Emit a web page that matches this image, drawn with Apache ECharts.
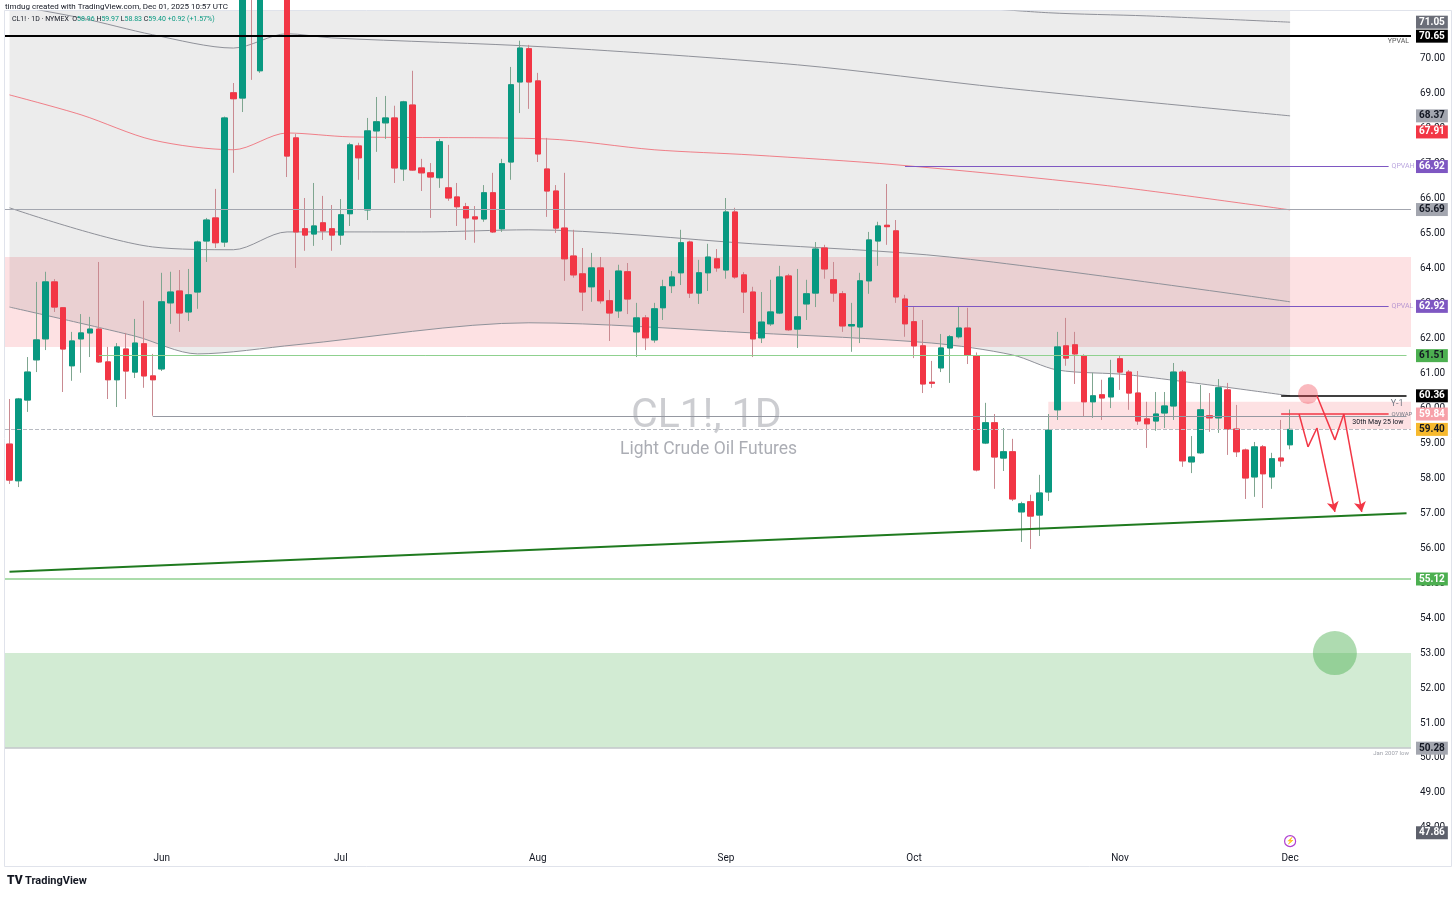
<!DOCTYPE html>
<html>
<head>
<meta charset="utf-8">
<script src="https://cdn.jsdelivr.net/npm/echarts@6/dist/echarts.min.js"></script>
<style>
  html, body { margin: 0; padding: 0; background: #fff; }
  #chart { width: 1456px; height: 897px; }
</style>
</head>
<body>
<div id="chart"></div>
<script>
// trading days shown on the chart
var dates = [
  '2025-05-07','2025-05-08','2025-05-09','2025-05-12','2025-05-13','2025-05-14','2025-05-15','2025-05-16',
  '2025-05-19','2025-05-20','2025-05-21','2025-05-22','2025-05-23','2025-05-27','2025-05-28','2025-05-29','2025-05-30',
  '2025-06-02','2025-06-03','2025-06-04','2025-06-05','2025-06-06','2025-06-09','2025-06-10','2025-06-11','2025-06-12',
  '2025-06-13','2025-06-16','2025-06-17','2025-06-18','2025-06-20','2025-06-23','2025-06-24','2025-06-25','2025-06-26',
  '2025-06-27','2025-06-30',
  '2025-07-01','2025-07-02','2025-07-03','2025-07-07','2025-07-08','2025-07-09','2025-07-10','2025-07-11','2025-07-14',
  '2025-07-15','2025-07-16','2025-07-17','2025-07-18','2025-07-21','2025-07-22','2025-07-23','2025-07-24','2025-07-25',
  '2025-07-28','2025-07-29','2025-07-30','2025-07-31',
  '2025-08-01','2025-08-04','2025-08-05','2025-08-06','2025-08-07','2025-08-08','2025-08-11','2025-08-12','2025-08-13',
  '2025-08-14','2025-08-15','2025-08-18','2025-08-19','2025-08-20','2025-08-21','2025-08-22','2025-08-25','2025-08-26',
  '2025-08-27','2025-08-28','2025-08-29',
  '2025-09-02','2025-09-03','2025-09-04','2025-09-05','2025-09-08','2025-09-09','2025-09-10','2025-09-11','2025-09-12',
  '2025-09-15','2025-09-16','2025-09-17','2025-09-18','2025-09-19','2025-09-22','2025-09-23','2025-09-24','2025-09-25',
  '2025-09-26','2025-09-29','2025-09-30',
  '2025-10-01','2025-10-02','2025-10-03','2025-10-06','2025-10-07','2025-10-08','2025-10-09','2025-10-10','2025-10-13',
  '2025-10-14','2025-10-15','2025-10-16','2025-10-17','2025-10-20','2025-10-21','2025-10-22','2025-10-23','2025-10-24',
  '2025-10-27','2025-10-28','2025-10-29','2025-10-30','2025-10-31',
  '2025-11-03','2025-11-04','2025-11-05','2025-11-06','2025-11-07','2025-11-10','2025-11-11','2025-11-12','2025-11-13',
  '2025-11-14','2025-11-17','2025-11-18','2025-11-19','2025-11-20','2025-11-21','2025-11-24','2025-11-25','2025-11-26',
  '2025-11-28','2025-12-01'
];
// empty days on the right side of the chart
var futureDates = [
  '2025-12-02','2025-12-03','2025-12-04','2025-12-05','2025-12-08','2025-12-09','2025-12-10',
  '2025-12-11','2025-12-12','2025-12-15','2025-12-16','2025-12-17','2025-12-18'
];
var tickDates = ['2025-06-02','2025-07-01','2025-08-01','2025-09-02','2025-10-01','2025-11-03','2025-12-01'];
var tickNames = ['Jun','Jul','Aug','Sep','Oct','Nov','Dec'];

// daily bars: open, high, low, close
var ohlc = [
  [58.98,60.27,57.84,57.95],[57.93,60.30,57.75,60.27],[60.24,61.47,59.90,61.04],[61.39,63.62,61.04,61.96],
  [61.99,63.91,61.67,63.62],[63.62,63.70,62.76,62.90],[62.88,62.90,60.47,61.70],[61.22,62.19,60.79,61.93],
  [61.99,62.70,61.02,62.16],[62.16,62.62,61.47,62.27],[62.27,64.19,61.30,61.33],[61.33,61.76,60.27,60.82],
  [60.82,61.87,60.04,61.76],[61.70,62.16,60.27,61.07],[61.04,62.56,60.87,61.87],[61.85,63.08,60.59,60.93],
  [60.93,61.56,59.79,60.82],
  [61.13,63.88,61.07,63.05],[63.02,63.91,62.42,63.33],[63.36,63.96,62.19,62.73],[62.76,63.99,62.50,63.25],
  [63.33,64.80,62.85,64.76],[64.79,65.45,64.19,65.39],[65.45,66.28,64.59,64.74],[64.76,68.35,64.62,68.31],
  [69.03,69.31,66.74,68.86],[68.88,77.60,68.48,72.98],[73.50,74.60,69.40,71.77],[69.66,75.00,69.60,74.84],
  [74.50,75.70,73.00,75.14],[75.00,75.80,72.60,73.84],[73.80,78.40,66.62,67.22],[67.74,67.85,64.02,65.05],
  [65.14,66.02,64.51,64.96],[64.99,66.45,64.65,65.22],[65.31,66.08,64.82,65.08],[65.14,65.82,64.51,64.96],
  [64.96,65.99,64.68,65.54],[65.57,67.60,65.22,67.54],[67.51,67.60,66.54,67.17],[65.68,68.31,65.39,67.94],
  [67.94,68.91,67.34,68.20],[68.17,68.94,67.71,68.31],[68.31,68.66,66.45,66.88],[66.85,68.80,66.51,68.77],
  [68.68,69.66,66.80,66.82],[66.88,67.14,66.22,66.74],[66.74,67.02,65.45,66.62],[66.60,67.71,66.31,67.63],
  [66.31,67.54,65.94,66.02],[66.05,66.45,65.22,65.77],[65.77,65.88,64.82,65.45],[65.48,65.79,64.74,65.42],
  [65.42,66.39,65.34,66.17],[66.17,66.74,65.02,65.05],[65.14,67.14,65.05,67.00],[67.05,69.77,66.54,69.26],
  [69.34,70.52,68.45,70.31],[70.29,70.40,68.57,69.34],
  [69.37,69.60,67.05,67.28],[66.85,67.74,65.48,66.22],[66.22,66.39,65.02,65.16],[65.16,66.74,63.65,64.28],
  [64.36,65.11,63.74,63.82],[63.85,64.59,62.79,63.33],[63.48,64.45,63.05,64.02],[64.02,64.33,63.00,63.08],
  [63.08,63.39,61.93,62.73],[62.79,64.11,62.59,63.93],[63.91,64.16,62.70,63.13],[62.19,63.02,61.47,62.59],
  [62.59,62.67,61.67,62.02],[61.96,63.02,61.88,62.85],[62.88,63.68,62.53,63.48],[63.51,63.93,63.30,63.76],
  [63.88,65.11,63.53,64.74],[64.76,64.80,63.16,63.30],[63.30,64.25,62.99,63.88],[63.88,64.71,63.36,64.33],
  [64.28,64.56,63.91,64.02],
  [63.96,66.02,63.71,65.62],[65.62,65.74,63.71,63.76],[63.82,63.90,62.73,63.33],[63.33,63.48,61.47,61.99],
  [62.02,63.33,61.87,62.47],[62.42,63.68,62.36,62.76],[62.73,64.08,62.70,63.76],[63.79,63.85,62.22,62.25],
  [62.27,63.99,61.73,62.62],[62.99,63.68,62.53,63.28],[63.30,64.76,62.90,64.56],[64.59,64.68,63.71,63.99],
  [63.68,64.19,63.05,63.30],[63.28,63.36,62.19,62.36],[62.36,63.02,61.62,62.40],[62.33,63.88,61.87,63.65],
  [63.65,65.05,63.28,64.82],[64.79,65.34,64.08,65.22],[65.24,66.42,64.68,65.20],[65.08,65.39,63.02,63.19],
  [63.13,63.25,62.05,62.42],
  [62.48,62.90,61.44,61.79],[61.79,62.53,60.44,60.70],[60.75,61.36,60.59,60.72],[61.16,62.13,61.04,61.73],
  [61.73,62.10,60.73,62.05],[62.05,62.93,62.00,62.30],[62.30,62.88,61.27,61.53],[61.50,61.60,58.20,58.24],
  [59.01,60.16,58.98,59.59],[59.59,59.84,57.70,58.61],[58.58,59.44,58.21,58.76],[58.76,59.13,57.35,57.41],
  [57.04,57.33,56.18,57.27],[57.33,57.53,55.98,56.92],[56.95,58.10,56.35,57.58],[57.61,59.84,57.35,59.38],
  [59.96,62.19,59.67,61.76],[61.79,62.59,61.22,61.44],[61.82,62.19,60.70,61.56],[61.50,61.55,59.76,60.19],
  [60.19,61.02,59.73,60.36],[60.39,60.82,59.67,60.30],[60.33,61.39,60.01,60.87],
  [61.42,61.50,60.53,61.04],[61.04,61.10,59.96,60.44],[60.44,61.07,59.53,59.64],[59.70,60.19,58.87,59.56],
  [59.64,60.47,59.36,59.84],[59.87,60.47,59.44,60.07],[60.07,61.30,59.67,61.04],[61.04,61.10,58.33,58.50],
  [58.47,59.21,58.15,58.61],[58.73,60.67,58.70,59.96],[59.79,60.44,59.33,59.73],[59.73,60.84,59.30,60.59],
  [60.53,60.73,58.67,59.41],[59.41,60.10,58.61,58.76],[58.81,58.85,57.41,58.01],[58.04,59.04,57.47,58.90],
  [58.90,58.95,57.15,58.13],[58.04,58.73,57.70,58.56],[58.58,59.67,58.33,58.50],
  [58.96,59.97,58.83,59.40]
];

// indicator curves: [bar index, price]
var bandUpper   = [[104,71.55],[116,71.32],[127,71.23],[143,71.05]];
var bandHigh    = [[0,71.55],[8,71.17],[16,70.69],[25,70.31],[31,70.72],[36,70.60],[60,70.34],[88,69.83],[111,69.17],[143,68.37]];
var redAverage  = [[0,68.97],[8,68.40],[16,67.68],[25,67.40],[31,67.88],[38,67.77],[60,67.71],[72,67.40],[83,67.25],[99,66.97],[122,66.39],[143,65.68]];
var bandMid     = [[0,65.74],[16,64.62],[25,64.54],[31,65.05],[46,65.05],[58,65.11],[83,64.71],[105,64.33],[143,63.05]];
var bandLower   = [[0,62.90],[14,62.07],[21,61.56],[32,61.82],[58,62.45],[83,62.16],[103,61.87],[112,61.53],[117,61.10],[125,60.96],[143,60.36]];

// drawings
var resistanceZone = [61.76, 64.33];
var qvwapZone = [59.41, 60.19];
var supportZone = [50.28, 53.00];
var trendline = [[0, 55.33], [156, 57.00]];
var pathA = [[144, 59.84], [145, 58.90], [146, 59.44], [148, 57.04]];
var pathB = [[146, 60.36], [148, 59.10], [149, 59.84], [151, 57.04]];
var redCircle = [145, 60.41];
var greenCircle = [148, 53.00];
var alertMark = [143, 47.62];
var yearValueLow = 70.65, quarterVAH = 66.92, quarterVAL = 62.92, prevQuarterLine = 65.69;
var greenLevel = 61.51, yearMinus1 = 60.36, qvwap = 59.84, mayLow = 59.79, lastPrice = 59.40;
var lowerGreenLevel = 55.12, jan2007Low = 50.28;
var tagUpper = 71.05, tagHigh = 68.37, tagRed = 67.91, tagBottom = 47.86;

var allDates = dates.concat(futureDates);
var catOf = function (p) { return [allDates[p[0]], p[1]]; };

var FONT = 'Roboto, "Liberation Sans", sans-serif';
var HIDDEN = { color: 'rgba(0,0,0,0)', width: 0 };

var chart = echarts.init(document.getElementById('chart'));

// wick series: full bar, body series: only open/close
var wickData = ohlc.map(function (r) { return [r[0], r[3], r[2], r[1]]; });
var bodyData = ohlc.map(function (r) { return [r[0], r[3], Math.min(r[0], r[3]), Math.max(r[0], r[3])]; });

function tag(v, bg, fg) {
    return {
        yAxis: v,
        lineStyle: HIDDEN,
        label: {
            show: true, position: 'end', distance: 5, formatter: v.toFixed(2), opacity: 1,
            backgroundColor: bg, color: fg, padding: [2, 3, 1, 3],
            fontSize: 10, fontFamily: FONT, fontWeight: 'bold'
        }
    };
}
function fullLine(v, color, width, type) {
    return { yAxis: v, lineStyle: { color: color, width: width, type: type || 'solid' }, label: { show: false } };
}
function segment(x0, x1, v, color, width, text, pos, textColor, fs) {
    return [
        { coord: [allDates[x0], v], lineStyle: { color: color, width: width, type: 'solid' },
          label: text ? { show: true, position: pos, formatter: text, color: textColor, fontSize: fs, fontFamily: FONT, distance: 3 } : { show: false } },
        { coord: [allDates[x1], v] }
    ];
}
function arrowPath(pts) {
    var segs = [];
    for (var i = 0; i < pts.length - 1; i++) {
        segs.push([
            { coord: catOf(pts[i]), symbol: 'none', lineStyle: { color: '#f23645', width: 1.5, type: 'solid' }, label: { show: false } },
            { coord: catOf(pts[i + 1]), symbol: i === pts.length - 2 ? 'arrow' : 'none', symbolSize: [9, 10] }
        ]);
    }
    return segs;
}
function textLabel(v, text, pos, color, fs) {
    return { yAxis: v, lineStyle: HIDDEN,
        label: { show: true, position: pos, formatter: text, color: color, opacity: 1, fontSize: fs, fontFamily: FONT, distance: 2 } };
}

var curve = function (data, color, z) {
    return { type: 'line', data: data.map(catOf), smooth: 0.3, symbol: 'none', silent: true, z: z || 2,
             lineStyle: { color: color, width: 1 } };
};

var option = {
    animation: false,
    backgroundColor: '#ffffff',
    grid: { left: 5, right: 45, top: 11, bottom: 52 },
    xAxis: {
        type: 'category',
        data: allDates,
        axisLine: { show: false },
        axisTick: { show: false },
        splitLine: { show: false },
        axisLabel: {
            interval: function (i, v) { return tickDates.indexOf(v) >= 0; },
            formatter: function (v) { var k = tickDates.indexOf(v); return k >= 0 ? tickNames[k] : ''; },
            color: '#131722', fontSize: 10, fontFamily: FONT, margin: 8
        }
    },
    yAxis: {
        type: 'value',
        position: 'right',
        min: 47.51,
        max: 71.37,
        minInterval: 1,
        maxInterval: 1,
        splitLine: { show: false },
        axisLine: { show: false },
        axisTick: { show: false },
        axisLabel: {
            showMinLabel: false, showMaxLabel: false,
            formatter: function (v) { return v.toFixed(2); },
            color: '#131722', fontSize: 10, fontFamily: FONT, margin: 9
        }
    },
    graphic: [
        { type: 'rect', silent: true, shape: { x: 4.5, y: 10.5, width: 1447, height: 856 },
          style: { fill: 'none', stroke: '#e0e3eb', lineWidth: 1 }, z: 0 },
        { type: 'text', left: 5, top: 3, silent: true,
          style: { text: 'timdug created with TradingView.com, Dec 01, 2025 10:57 UTC', fontSize: 8, fontFamily: FONT, fill: '#131722' } },
        { type: 'text', left: 12, top: 16, silent: true, z: 100,
          style: {
              text: '{k|CL1! · 1D · NYMEX  O}{g|58.96}{k| H}{g|59.97}{k| L}{g|58.83}{k| C}{g|59.40}{g| +0.92 (+1.57%)}',
              rich: { k: { fontSize: 7, fontFamily: FONT, fill: '#131722' }, g: { fontSize: 7, fontFamily: FONT, fill: '#089981' } }
          } },
        { type: 'text', left: 631, top: 396, silent: true, z: 0,
          style: { text: 'CL1!, 1D', fontSize: 41, fontFamily: FONT, fill: 'rgba(120,123,134,0.38)' } },
        { type: 'text', left: 620, top: 441, silent: true, z: 0,
          style: { text: 'Light Crude Oil Futures', fontSize: 17.5, fontFamily: FONT, fill: 'rgba(120,123,134,0.62)' } },
        { type: 'text', left: 7, top: 875, silent: true,
          style: { text: 'TV', fontSize: 12, fontWeight: 900, fontFamily: FONT, fill: '#131722' } },
        { type: 'text', left: 25, top: 876, silent: true,
          style: { text: 'TradingView', fontSize: 11, fontWeight: 'bold', fontFamily: FONT, fill: '#131722' } }
    ],
    series: [
        // shaded band: from lower band up to the top
        {
            type: 'line', data: bandLower.map(catOf), smooth: 0.3, symbol: 'none', silent: true, z: 1,
            lineStyle: { color: '#8f9199', width: 1 },
            areaStyle: { origin: 'end', color: 'rgba(0,0,0,0.105)' },
            markArea: {
                silent: true,
                data: [
                    [{ yAxis: resistanceZone[1], itemStyle: { color: 'rgba(242,54,69,0.15)' } }, { yAxis: resistanceZone[0] }],
                    [{ xAxis: allDates[116], yAxis: qvwapZone[1], itemStyle: { color: 'rgba(242,54,69,0.15)' } }, { yAxis: qvwapZone[0] }],
                    [{ yAxis: supportZone[1], itemStyle: { color: 'rgba(76,175,80,0.25)' } }, { yAxis: supportZone[0] }]
                ]
            }
        },
        curve(bandUpper, '#8f9199'),
        curve(bandHigh, '#8f9199'),
        curve(redAverage, 'rgba(242,54,69,0.6)'),
        curve(bandMid, '#8f9199'),
        {
            type: 'candlestick', data: wickData, barWidth: 6, silent: true, z: 3,
            itemStyle: { color: '#7fa690', color0: '#c98a91', borderColor: '#7fa690', borderColor0: '#c98a91', borderWidth: 1 }
        },
        {
            type: 'candlestick', data: bodyData, barWidth: 6, silent: true, z: 4,
            itemStyle: { color: '#089981', color0: '#f23645', borderColor: '#089981', borderColor0: '#f23645', borderWidth: 1 }
        },
        {
            type: 'line', data: trendline.map(catOf), symbol: 'none', silent: true, z: 5,
            lineStyle: { color: '#1f7a1f', width: 2 },
            markLine: {
                silent: true, symbol: 'none', precision: 2,
                data: [
                    fullLine(yearValueLow, '#000000', 2),
                    fullLine(prevQuarterLine, '#a3a6af', 1),
                    fullLine(lastPrice, '#b8bbc2', 1, 'dashed'),
                    fullLine(lowerGreenLevel, '#8fd18f', 1.5),
                    fullLine(jan2007Low, '#c5c7cc', 1.5),
                    segment(10, 156, greenLevel, '#8fd18f', 1),
                    segment(16, 156, mayLow, '#9598a1', 1, '30th May 25 low', 'insideEndBottom', '#131722', 7),
                    segment(100, 154, quarterVAH, '#7e57c2', 1, 'QPVAH', 'end', 'rgba(126,87,194,0.55)', 7),
                    segment(100, 154, quarterVAL, '#7e57c2', 1, 'QPVAL', 'end', 'rgba(126,87,194,0.55)', 7),
                    segment(142, 156, yearMinus1, '#000000', 1.5, 'Y-1', 'insideEndBottom', '#787b86', 9),
                    segment(142, 154, qvwap, '#f23645', 1.5, 'QVWAP', 'end', '#787b86', 6),
                    textLabel(yearValueLow, 'YPVAL', 'insideEndBottom', '#555555', 7),
                    textLabel(jan2007Low, 'Jan 2007 low', 'insideEndBottom', '#a0a3ab', 6),
                    tag(tagUpper, '#6b6e78', '#ffffff'),
                    tag(yearValueLow, '#000000', '#ffffff'),
                    tag(tagHigh, '#a3a6af', '#131722'),
                    tag(tagRed, '#f23645', '#ffffff'),
                    tag(quarterVAH, '#7e57c2', '#ffffff'),
                    tag(prevQuarterLine, '#a3a6af', '#131722'),
                    tag(quarterVAL, '#7e57c2', '#ffffff'),
                    tag(greenLevel, '#4caf50', '#131722'),
                    tag(yearMinus1, '#000000', '#ffffff'),
                    tag(qvwap, '#f7a1a9', '#ffffff'),
                    tag(lastPrice, '#f7b92e', '#131722'),
                    tag(lowerGreenLevel, '#4caf50', '#ffffff'),
                    tag(jan2007Low, '#a3a6af', '#131722'),
                    tag(tagBottom, '#5d606b', '#ffffff')
                ].concat(arrowPath(pathA)).concat(arrowPath(pathB))
            },
            markPoint: {
                silent: true,
                label: { show: false },
                data: [
                    { coord: catOf(redCircle), symbol: 'circle', symbolSize: 20, itemStyle: { color: 'rgba(242,54,69,0.35)' } },
                    { coord: catOf(greenCircle), symbol: 'circle', symbolSize: 44, itemStyle: { color: 'rgba(76,175,80,0.45)' } },
                    { coord: catOf(alertMark), symbol: 'circle', symbolSize: 11,
                      itemStyle: { color: '#ffffff', borderColor: '#b040d0', borderWidth: 1.2 },
                      label: { show: true, position: 'inside', formatter: '\u26A1', color: '#b040d0', fontSize: 7 } }
                ]
            }
        }
    ]
};

chart.setOption(option);
</script>
</body>
</html>
